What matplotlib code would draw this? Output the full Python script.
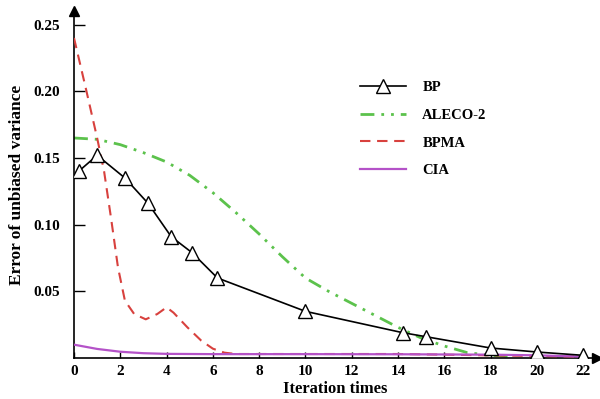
import matplotlib
matplotlib.use("Agg")
import matplotlib.pyplot as plt

plt.rcParams['font.family'] = ['Liberation Serif', 'DejaVu Serif']
plt.rcParams['font.weight'] = 'bold'

# ---- data ----
bp_x = [0.2, 1.0, 2.2, 3.2, 4.2, 5.1, 6.2, 10.0, 14.2, 15.2, 18.0, 20.0, 22.0]
bp_y = [0.140, 0.152, 0.135, 0.116, 0.091, 0.079, 0.060, 0.035, 0.019, 0.016, 0.0075, 0.0045, 0.002]

aleco_x = [0, 1, 2, 3, 4, 5, 6, 7, 8, 9, 10, 11, 12, 13, 14, 15, 16, 17, 18, 19]
aleco_y = [0.165, 0.164, 0.160, 0.154, 0.147, 0.137, 0.124, 0.109, 0.093, 0.076,
           0.060, 0.050, 0.041, 0.032, 0.023, 0.015, 0.009, 0.004, 0.002, 0.001]

bpma_x = [0, 0.5, 1.0, 1.3, 1.6, 1.9, 2.2, 2.6, 3.1, 3.6, 4.0, 4.3, 4.9, 5.5, 6.0, 6.5, 7.0, 10, 14, 18, 22]
bpma_y = [0.240, 0.203, 0.165, 0.140, 0.105, 0.068, 0.043, 0.033, 0.029, 0.033, 0.038,
          0.034, 0.023, 0.013, 0.007, 0.004, 0.003, 0.003, 0.003, 0.002, 0.001]

cia_x = [0, 1, 2, 3, 4, 6, 10, 14, 18, 20, 22]
cia_y = [0.0100, 0.0068, 0.0047, 0.0036, 0.0031, 0.0029, 0.0029, 0.0028, 0.0025, 0.0020, 0.0010]

x_ticks = [0, 2, 4, 6, 8, 10, 12, 14, 16, 18, 20, 22]
y_ticks = [0.05, 0.10, 0.15, 0.20, 0.25]
y_ticklabels = ['0.05', '0.10', '0.15', '0.20', '0.25']

# ---- figure ----
fig = plt.figure(figsize=(6.0, 3.99), dpi=100)
ax = fig.add_axes([74/600, 41/399, (597-74)/600, (358-11.3)/399])

ax.plot(aleco_x, aleco_y, color='#5cc24c', lw=2.0, dashes=(5, 2.5, 1, 2.5, 1, 2.5), label='ALECO-2', zorder=2)
ax.plot(bpma_x, bpma_y, color='#d8413e', lw=1.5, dashes=(5, 3.2), label='BPMA', zorder=3)
ax.plot(cia_x, cia_y, color='#b452c8', lw=1.6, label='CIA', zorder=3)
ax.plot(bp_x, bp_y, color='black', lw=1.2, marker='^', markersize=10,
        markerfacecolor='white', markeredgecolor='black', markeredgewidth=1.0,
        label='BP', zorder=4)

ax.set_xlim(0, 22.6)
ax.set_ylim(0, 0.26)
ax.spines['top'].set_visible(False)
ax.spines['right'].set_visible(False)
ax.spines['left'].set_linewidth(1.2)
ax.spines['bottom'].set_linewidth(1.2)

# axis arrows
ax.plot(1, 0, marker='>', color='black', markersize=7, transform=ax.transAxes, clip_on=False)
ax.plot(0, 1, marker='^', color='black', markersize=7, transform=ax.transAxes, clip_on=False)

ax.set_xticks(x_ticks)
ax.set_xticklabels([str(t) for t in x_ticks])
ax.set_yticks(y_ticks)
ax.set_yticklabels(y_ticklabels)
ax.tick_params(axis='both', direction='in', labelsize=11, width=1.0)
ax.tick_params(axis='y', length=8, pad=10)
ax.tick_params(axis='x', length=4, pad=5)
for lbl in ax.get_xticklabels() + ax.get_yticklabels():
    lbl.set_fontweight('bold')

ax.set_xlabel('Iteration times', fontsize=12, fontweight='bold', labelpad=2)
ax.set_ylabel('Error of unbiased variance', fontsize=12.5, fontweight='bold', labelpad=6)

handles, labels = ax.get_legend_handles_labels()
order = [labels.index(n) for n in ['BP', 'ALECO-2', 'BPMA', 'CIA']]
leg = ax.legend([handles[i] for i in order], [labels[i] for i in order],
                loc='upper left', bbox_to_anchor=(0.521, 0.8375), frameon=False,
                handlelength=3.2, handletextpad=1.1, labelspacing=1.0,
                prop={'weight': 'bold', 'size': 10.5})

fig.savefig('out.png', dpi=100)
